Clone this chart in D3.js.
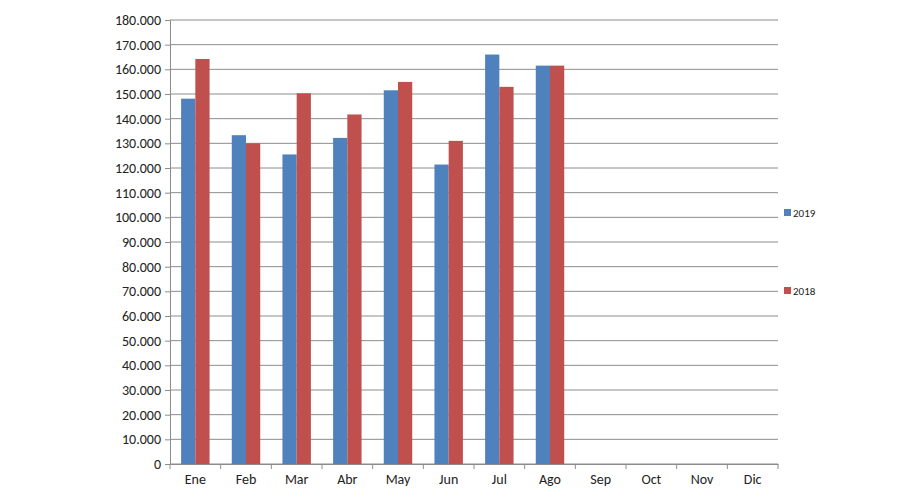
<!DOCTYPE html>
<html>
<head>
<meta charset="utf-8">
<script src="https://cdn.jsdelivr.net/npm/d3@7"></script>
<style>
  body { margin: 0; background: #fff; }
  text { font-family: Calibri, Carlito, "Liberation Sans", sans-serif; fill: #222; }
</style>
</head>
<body>
<svg id="chart" width="904" height="504"></svg>
<script>
const months = ['Ene', 'Feb', 'Mar', 'Abr', 'May', 'Jun', 'Jul', 'Ago', 'Sep', 'Oct', 'Nov', 'Dic'];
const values2019 = [148100, 133300, 125500, 132200, 151500, 121400, 166000, 161500];
const values2018 = [164200, 130000, 150300, 141700, 154900, 131000, 152900, 161500];
const seriesNames = ['2019', '2018'];
const colors = ['#4f81bd', '#c0504d'];

const margin = { top: 20, right: 126, bottom: 40, left: 170 };
const width = 904, height = 504;

const svg = d3.select('#chart');

const x = d3.scaleBand().domain(months).range([margin.left, width - margin.right]);
const y = d3.scaleLinear().domain([0, 180000]).range([height - margin.bottom, margin.top]);
const inner = d3.scaleBand().domain(seriesNames).range([0, x.bandwidth()]).paddingInner(0).paddingOuter(0.78);

const fmt = d => d3.format(',')(d).replace(/,/g, '.');

// gridlines
svg.append('g')
  .selectAll('line')
  .data(y.ticks(18))
  .join('line')
  .attr('x1', margin.left).attr('x2', width - margin.right)
  .attr('y1', d => y(d)).attr('y2', d => y(d))
  .attr('stroke', '#8c8c8c').attr('stroke-width', 1);

const yAxis = d3.axisLeft(y).ticks(18).tickFormat(fmt).tickSize(5).tickPadding(4);
svg.append('g')
  .attr('transform', `translate(${margin.left},0)`)
  .call(yAxis)
  .call(g => g.selectAll('path,line').attr('stroke', '#8c8c8c'))
  .call(g => g.selectAll('text').attr('font-size', 14).style('fill', '#222'));

const xAxis = d3.axisBottom(x).tickSizeInner(0).tickSizeOuter(0).tickPadding(10);
svg.append('g')
  .attr('transform', `translate(0,${height - margin.bottom})`)
  .call(xAxis)
  .call(g => g.select('.domain').attr('stroke', '#8c8c8c'))
  .call(g => g.selectAll('text').attr('font-size', 14).style('fill', '#222'));

// category separators on the x axis
svg.append('g')
  .selectAll('line')
  .data(months.concat(['end']))
  .join('line')
  .attr('x1', (d, i) => margin.left + i * x.step())
  .attr('x2', (d, i) => margin.left + i * x.step())
  .attr('y1', height - margin.bottom).attr('y2', height - margin.bottom + 5)
  .attr('stroke', '#8c8c8c');

const rows = values2019.map((v, i) => ({ month: months[i], vals: [v, values2018[i]] }));

svg.append('g')
  .selectAll('g')
  .data(rows)
  .join('g')
  .attr('transform', d => `translate(${x(d.month)},0)`)
  .selectAll('rect')
  .data(d => d.vals.map((v, i) => ({ key: seriesNames[i], v, c: colors[i] })))
  .join('rect')
  .attr('x', d => inner(d.key))
  .attr('width', inner.bandwidth())
  .attr('y', d => y(d.v))
  .attr('height', d => y(0) - y(d.v))
  .attr('fill', d => d.c);

// legend
const legendY = [213, 291];
const legend = svg.append('g')
  .selectAll('g')
  .data(seriesNames)
  .join('g')
  .attr('transform', (d, i) => `translate(784,${legendY[i]})`);
legend.append('rect')
  .attr('x', 0).attr('y', -4).attr('width', 7).attr('height', 7)
  .attr('fill', (d, i) => colors[i]);
legend.append('text')
  .attr('x', 9).attr('y', 4)
  .attr('font-size', 11)
  .text(d => d);
</script>
</body>
</html>
